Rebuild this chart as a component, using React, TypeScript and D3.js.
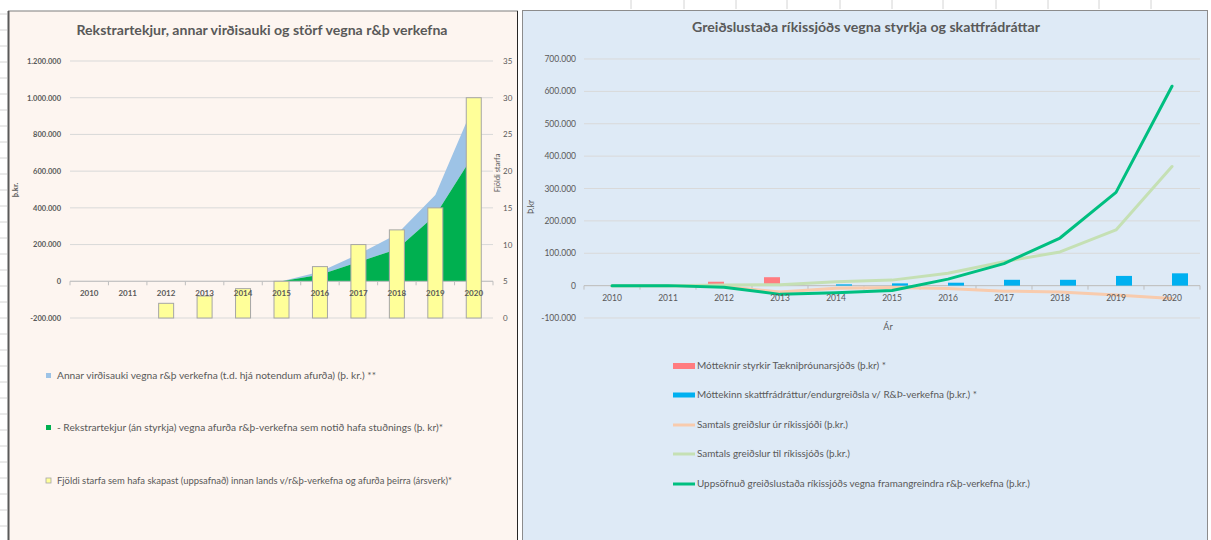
import React from 'react';
import * as d3 from 'd3';

// ---------- DATA ----------
const years = ['2010', '2011', '2012', '2013', '2014', '2015', '2016', '2017', '2018', '2019', '2020'];

// Left chart
const jobs = [0, 0, 2, 3, 4, 5, 7, 10, 12, 15, 30];
const revenue = [0, 0, 0, 0, 0, 0, 35000, 105000, 175000, 360000, 690000];
const otherValueAdded = [0, 0, 0, 0, 0, 0, 17000, 42000, 81000, 110000, 270000];
const leftTicks = [-200000, 0, 200000, 400000, 600000, 800000, 1000000, 1200000];
const rightTicks = [0, 5, 10, 15, 20, 25, 30, 35];

// Right chart
const grants = [0, 0, 12000, 26000, 0, 0, 0, 0, 0, 0, 0];
const taxCredit = [0, 0, 0, 0, 4000, 7000, 9000, 18000, 18000, 30000, 38000];
const paymentsOut = [0, 0, -3000, -20000, -8000, -6000, -9000, -17000, -20000, -29000, -40000];
const paymentsIn = [0, 0, 2000, 3000, 12000, 17000, 38000, 74000, 104000, 172000, 368000];
const cumulative = [0, 0, -5000, -27000, -22000, -15000, 20000, 68000, 147000, 288000, 616000];
const rTicks = [-100000, 0, 100000, 200000, 300000, 400000, 500000, 600000, 700000];

const leftTitle = 'Rekstrartekjur, annar virðisauki og störf vegna r&þ verkefna';
const rightTitle = 'Greiðslustaða ríkissjóðs vegna styrkja og skattfrádráttar';
const leftLegend = [
  'Annar virðisauki vegna r&þ verkefna (t.d. hjá notendum afurða) (þ. kr.) **',
  '- Rekstrartekjur (án styrkja) vegna afurða r&þ-verkefna sem notið hafa stuðnings (þ. kr)*',
  'Fjöldi starfa sem hafa skapast (uppsafnað) innan lands v/r&þ-verkefna og afurða þeirra (ársverk)*',
];
const rightLegend = [
  'Mótteknir styrkir Tækniþróunarsjóðs (þ.kr) *',
  'Móttekinn skattfrádráttur/endurgreiðsla v/ R&Þ-verkefna (þ.kr.) *',
  'Samtals greiðslur úr ríkissjóði (þ.kr.)',
  'Samtals greiðslur til ríkissjóðs (þ.kr.)',
  'Uppsöfnuð greiðslustaða ríkissjóðs vegna framangreindra r&þ-verkefna (þ.kr.)',
];

const FONT = 'Lato, "Open Sans", sans-serif';
const TXT = '#595959';
const GRID = '#D9D9D9';

const loc = d3.formatLocale({ decimal: ',', thousands: '.', grouping: [3], currency: ['', ''], minus: '-' });
const fmt = loc.format(',');

export default function App() {
  // ----- left scales -----
  const xL = d3.scaleBand<string>().domain(years).range([70, 493]);
  const yL = d3.scaleLinear().domain([-200000, 1200000]).range([318, 61]);
  const yJ = d3.scaleLinear().domain([0, 35]).range([318, 61]);
  const cxL = (i: number) => (xL(years[i]) as number) + xL.bandwidth() / 2;

  const stackData = years.map((y, i) => ({ year: y, rev: revenue[i], other: otherValueAdded[i] }));
  const stacked = d3.stack<any>().keys(['rev', 'other'])(stackData);
  const area = d3
    .area<any>()
    .x((d, i) => cxL(i))
    .y0((d) => yL(d[0]))
    .y1((d) => yL(d[1]));
  const firstIdx = 5;
  const sliceArea = (s: any[]) => area(s.slice(firstIdx).map((d: any) => d) as any);
  const areaFrom = d3
    .area<any>()
    .x((d: any) => cxL(d.i))
    .y0((d: any) => yL(d.v[0]))
    .y1((d: any) => yL(d.v[1]));
  const areaPath = (s: any) =>
    areaFrom(
      years.map((_, i) => ({ i, v: s[i] })).filter((d) => d.i >= firstIdx)
    ) as string;

  // ----- right scales -----
  const xR = d3.scaleBand<string>().domain(years).range([584, 1200]);
  const yR = d3.scaleLinear().domain([-100000, 700000]).range([318, 59]);
  const barW = xR.bandwidth() / 3.5;
  const cxR = (i: number) => (xR(years[i]) as number) + xR.bandwidth() / 2;
  const line = d3
    .line<number>()
    .x((d, i) => cxR(i))
    .y((d) => yR(d));

  const sheetTop = [631, 684, 736, 787, 840, 892, 943, 996, 1048, 1099, 1151];
  const sheetLeft = d3.range(14, 540, 16);

  return (
    <svg width={1211} height={540} style={{ position: 'absolute', left: 0, top: 0 }} fontFamily={FONT}>
      <rect x={0} y={0} width={1211} height={540} fill="#ffffff" />
      {sheetTop.map((x) => (
        <line key={'st' + x} x1={x} x2={x} y1={0} y2={9} stroke="#d4d4d4" strokeWidth={1} />
      ))}
      {sheetLeft.map((y) => (
        <line key={'sl' + y} x1={0} x2={7} y1={y} y2={y} stroke="#d4d4d4" strokeWidth={1} />
      ))}

      {/* ================= LEFT PANEL ================= */}
      <rect x={8.5} y={11} width={509} height={540} fill="#FDF5F0" stroke="#7f7f7f" strokeWidth={1} />
      <line x1={8.5} x2={8.5} y1={11} y2={540} stroke="#595959" strokeWidth={2} />
      <line x1={517.5} x2={517.5} y1={11} y2={540} stroke="#262626" strokeWidth={1} />
      <text x={262} y={35} textAnchor="middle" fontSize={13} fontWeight="bold" fill={TXT} textLength={371} lengthAdjust="spacingAndGlyphs">
        {leftTitle}
      </text>

      {leftTicks.map((t) => (
        <g key={'lt' + t}>
          <line x1={70} x2={493} y1={yL(t)} y2={yL(t)} stroke={GRID} strokeWidth={1} />
          <text x={61} y={yL(t) + 2.8} textAnchor="end" fontSize={7.5} fontWeight="bold" fill={TXT}>
            {fmt(t)}
          </text>
        </g>
      ))}
      {rightTicks.map((t) => (
        <text key={'rt' + t} x={503} y={yJ(t) + 3} textAnchor="start" fontSize={8} fill={TXT}>
          {t}
        </text>
      ))}
      <text transform={`translate(18,190) rotate(-90)`} textAnchor="middle" fontSize={7.5} fontWeight="bold" fill={TXT}>
        þ.kr.
      </text>
      <text transform={`translate(500,173) rotate(-90)`} textAnchor="middle" fontSize={7.5} fill={TXT}>
        Fjöldi starfa
      </text>

      {/* stacked areas */}
      <path d={areaPath(stacked[1])} fill="#9DC3E6" />
      <path d={areaPath(stacked[0])} fill="#00B050" />

      {/* axis line + ticks */}
      <line x1={70} x2={493} y1={yL(0)} y2={yL(0)} stroke="#BFBFBF" strokeWidth={1} />
      {d3.range(years.length + 1).map((i) => {
        const x = 70 + i * xL.bandwidth();
        return <line key={'ltk' + i} x1={x} x2={x} y1={yL(0)} y2={yL(0) + 4} stroke="#BFBFBF" strokeWidth={1} />;
      })}

      {/* job bars */}
      {jobs.map((v, i) =>
        v > 0 ? (
          <rect
            key={'jb' + i}
            x={cxL(i) - 7.5}
            y={yJ(v)}
            width={15}
            height={yJ(0) - yJ(v)}
            fill="#FFFF99"
            stroke="#A6A6A6"
            strokeWidth={1}
          />
        ) : null
      )}
      {years.map((y, i) => (
        <text key={'lx' + y} x={cxL(i)} y={296} textAnchor="middle" fontSize={8} fontWeight="bold" fill={TXT}>
          {y}
        </text>
      ))}

      {/* left legend */}
      {leftLegend.map((t, i) => {
        const ly = [376, 428, 481][i];
        const ends = [376, 443, 452];
        const col = ['#9DC3E6', '#00B050', '#FFFF99'][i];
        return (
          <g key={'ll' + i}>
            <rect x={46} y={ly - 3} width={5} height={5} fill={col} stroke={i === 2 ? '#A6A6A6' : 'none'} strokeWidth={0.8} />
            <text x={57} y={ly + 3} fontSize={9} fill={TXT} textLength={ends[i] - 57} lengthAdjust="spacingAndGlyphs">
              {t}
            </text>
          </g>
        );
      })}

      {/* ================= RIGHT PANEL ================= */}
      <rect x={522.5} y={10.5} width={685} height={540} fill="#DEEAF6" stroke="#8c8c8c" strokeWidth={1} />
      <text x={866} y={32} textAnchor="middle" fontSize={13} fontWeight="bold" fill={TXT} textLength={348} lengthAdjust="spacingAndGlyphs">
        {rightTitle}
      </text>
      {rTicks.map((t) => (
        <g key={'rg' + t}>
          <line x1={584} x2={1200} y1={yR(t)} y2={yR(t)} stroke={GRID} strokeWidth={1} />
          <text x={576} y={yR(t) + 3} textAnchor="end" fontSize={8.5} fill={TXT}>
            {fmt(t)}
          </text>
        </g>
      ))}
      <text transform={`translate(534,207) rotate(-90)`} textAnchor="middle" fontSize={8.5} fill={TXT}>
        Þ.kr
      </text>
      <line x1={584} x2={1200} y1={yR(0)} y2={yR(0)} stroke="#BFBFBF" strokeWidth={1} />
      {d3.range(years.length + 1).map((i) => {
        const x = 584 + i * xR.bandwidth();
        return <line key={'rtk' + i} x1={x} x2={x} y1={yR(0)} y2={yR(0) + 4} stroke="#BFBFBF" strokeWidth={1} />;
      })}

      {/* bars */}
      {grants.map((v, i) =>
        v !== 0 ? (
          <rect key={'gr' + i} x={cxR(i) - barW} y={yR(Math.max(0, v))} width={barW} height={Math.abs(yR(v) - yR(0))} fill="#FF7C80" />
        ) : null
      )}
      {taxCredit.map((v, i) =>
        v !== 0 ? (
          <rect key={'tc' + i} x={cxR(i)} y={yR(Math.max(0, v))} width={barW} height={Math.abs(yR(v) - yR(0))} fill="#00B0F0" />
        ) : null
      )}

      {/* lines */}
      <path d={line(paymentsOut) as string} fill="none" stroke="#F8CBAD" strokeWidth={3} strokeLinejoin="round" strokeLinecap="round" />
      <path d={line(paymentsIn) as string} fill="none" stroke="#C5E0B4" strokeWidth={3} strokeLinejoin="round" strokeLinecap="round" />
      <path d={line(cumulative) as string} fill="none" stroke="#00BF80" strokeWidth={3} strokeLinejoin="round" strokeLinecap="round" />

      {years.map((y, i) => (
        <text key={'rx' + y} x={cxR(i)} y={301} textAnchor="middle" fontSize={8.5} fill={TXT}>
          {y}
        </text>
      ))}
      <text x={888} y={330} textAnchor="middle" fontSize={9} fill={TXT}>
        Ár
      </text>

      {/* right legend */}
      {rightLegend.map((t, i) => {
        const ly = [366, 395, 425, 454, 484][i];
        const ends = [886, 977, 848, 850, 1030];
        const col = ['#FF7C80', '#00B0F0', '#F8CBAD', '#C5E0B4', '#00BF80'][i];
        const h = [6, 5, 3, 3, 3][i];
        return (
          <g key={'rl' + i}>
            <rect x={673} y={ly - h / 2} width={22} height={h} fill={col} />
            <text x={697} y={ly + 3.2} fontSize={9.5} fill={TXT} textLength={ends[i] - 697} lengthAdjust="spacingAndGlyphs">
              {t}
            </text>
          </g>
        );
      })}
    </svg>
  );
}
